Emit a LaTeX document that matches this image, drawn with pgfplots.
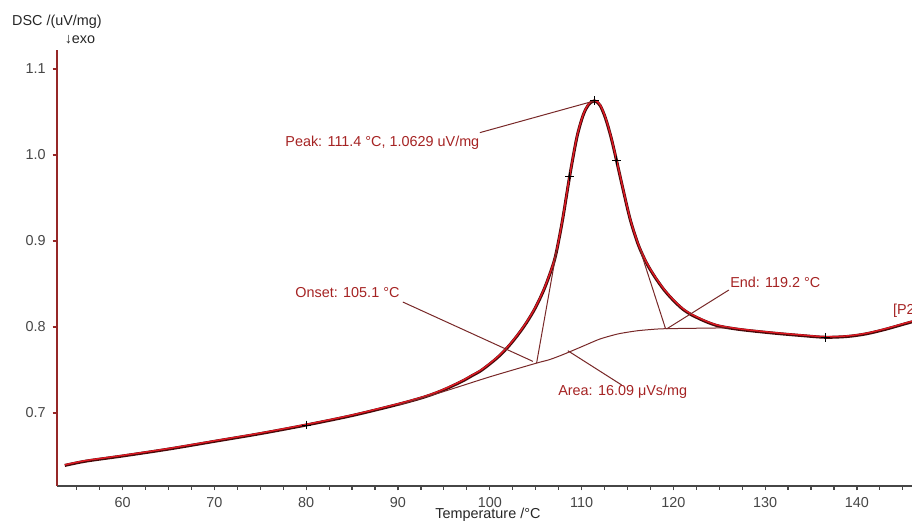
\documentclass[border=0pt]{standalone}
\usepackage{fontspec}
\setmainfont{Liberation Sans}
\usepackage{pgfplots}
\usepackage{pgfplotstable}
\pgfplotsset{compat=1.18}

\definecolor{dscred}{RGB}{225,25,35}
\definecolor{dscdark}{RGB}{70,10,10}
\definecolor{annline}{RGB}{120,40,40}
\definecolor{anntext}{RGB}{165,35,35}
\definecolor{axred}{RGB}{150,40,40}
\definecolor{tickgray}{RGB}{70,70,70}

% DSC curve, T in degC, signal in uV/mg
\pgfplotstableread{
T v
53.7 0.639
56 0.644
60 0.650
65 0.658
70 0.667
75 0.676
80 0.686
85 0.697
90 0.710
93 0.719
95 0.727
97 0.737
98 0.743
99 0.749
100 0.757
101 0.766
102 0.777
103 0.790
104 0.805
105 0.823
106 0.846
107 0.876
107.5 0.900
108 0.929
108.7 0.975
109.5 1.021
110.2 1.047
110.8 1.059
111.4 1.0629
112 1.058
112.6 1.043
113.2 1.021
113.8 0.994
114.5 0.961
115.3 0.925
116.2 0.895
117.1 0.874
118 0.858
119 0.843
120 0.831
121 0.821
122 0.814
123.6 0.806
125 0.801
127.3 0.797
130.8 0.793
134 0.790
136.6 0.788
139 0.789
141 0.792
143 0.797
145 0.803
146 0.806
}\dsc

% integration baseline
\pgfplotstableread{
T v
90 0.709
95 0.725
100 0.742
105.1 0.758
106.5 0.762
108 0.768
110 0.777
112 0.786
114 0.792
116 0.7955
117.5 0.797
119.15 0.798
126 0.799
}\base

\begin{document}
\begin{tikzpicture}[font=\fontsize{7.2}{8.6}\selectfont]
\begin{axis}[
  at={(0,0)}, anchor=south west,
  scale only axis, width=427.5pt, height=218pt,
  xmin=52.85, xmax=146, ymin=0.6151, ymax=1.1221,
  axis x line=bottom, axis y line=left,
  axis line style={-},
  x axis line style={tickgray, line width=0.8pt},
  y axis line style={axred, line width=0.9pt},
  xtick={60,70,...,140},
  minor xtick={55,57.5,...,145},
  ytick={0.7,0.8,0.9,1.0,1.1},
  yticklabels={0.7,0.8,0.9,1.0,1.1},
  tick align=outside,
  major tick length=2.2pt, minor tick length=1.8pt,
  x tick style={tickgray, line width=0.6pt},
  y tick style={axred, line width=0.6pt},
  ticklabel style={text=tickgray},
  /pgf/number format/assume math mode=true,
  clip=false,
  xlabel={Temperature /°C},
  xlabel style={at={(axis description cs:0.504,0)}, anchor=center, yshift=-14.6pt, text=black!85},
]
\addplot[dscdark, line width=1.5pt, smooth, tension=0.5] table[x=T, y=v] {\dsc};
\addplot[dscred, line width=0.7pt, smooth, tension=0.5, yshift=0.3pt] table[x=T, y=v] {\dsc};

\addplot[annline, line width=0.5pt, smooth, tension=0.4] table[x=T, y=v] {\base};
\addplot[annline, line width=0.5pt] coordinates {(105.1,0.758) (107.3,0.890)};
\addplot[annline, line width=0.5pt] coordinates {(119.15,0.798) (116.4,0.889)};

\addplot[only marks, mark=+, mark size=2.2pt, black, line width=0.5pt] coordinates {
  (80,0.686) (108.7,0.975) (113.8,0.994) (136.6,0.788) (111.4,1.0629)};

% annotation leaders
\addplot[annline, line width=0.5pt] coordinates {(98.92,1.026) (111.4,1.0629)};
\addplot[annline, line width=0.5pt] coordinates {(90.53,0.829) (104.7,0.760)};
\addplot[annline, line width=0.5pt] coordinates {(114.36,0.7326) (108.5,0.7724)};
\addplot[annline, line width=0.5pt] coordinates {(126.05,0.843) (119.26,0.7977)};

\node[anchor=east, inner sep=0pt, text=anntext] at (axis cs:98.9,1.014) {Peak: 111.4 °C, 1.0629 uV/mg};
\node[anchor=east, inner sep=0pt, text=anntext] at (axis cs:90.2,0.8395) {Onset: 105.1 °C};
\node[anchor=west, inner sep=0pt, text=anntext] at (axis cs:107.42,0.7248) {Area: 16.09 μVs/mg};
\node[anchor=west, inner sep=0pt, text=anntext] at (axis cs:126.16,0.8515) {End: 119.2 °C};
\node[anchor=west, inner sep=0pt, text=anntext] at (axis cs:143.9,0.8186) {[P2]};
\end{axis}
\node[text=black!85] at (0pt,232pt) {DSC /(uV/mg)};
\node[text=black!85] at (11.5pt,223pt) {↓exo};
\pgfresetboundingbox
\path (-28.5pt,-18pt) rectangle (427.5pt,243pt);
\end{tikzpicture}
\end{document}
